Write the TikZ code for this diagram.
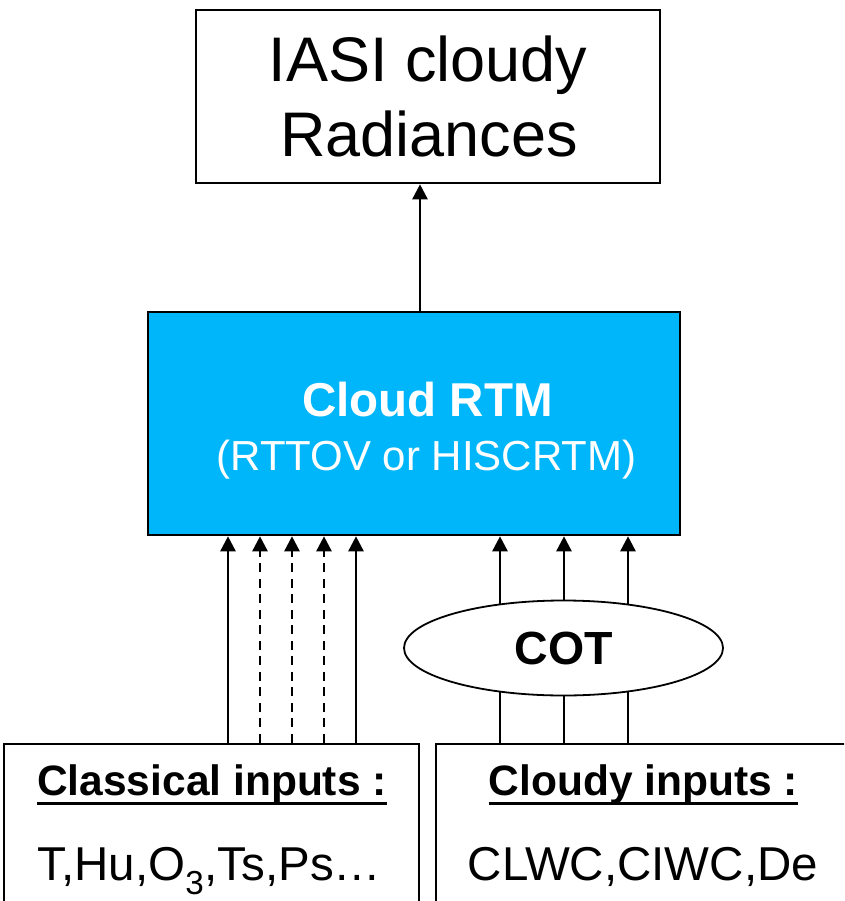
\documentclass[tikz,border=0pt]{standalone}
\usepackage{fontspec}
\setmainfont{Liberation Sans}
\usetikzlibrary{arrows.meta,shapes.geometric,calc}
\definecolor{rtmblue}{RGB}{0,182,250}
\begin{document}
\begin{tikzpicture}[x=1pt,y=-1pt,
  boxst/.style={draw=black,line width=2.6pt,rectangle,inner sep=0pt},
  lbl/.style={inner sep=0pt,anchor=base},
  arr/.style={line width=2.6pt,-{Triangle[width=15pt,length=15pt]}},
  dsh/.style={arr,dash pattern=on 9pt off 6.5pt},
  plain/.style={line width=2.6pt},
  ulst/.style={line width=3pt}]
\useasboundingbox (0,0) rectangle (844,901);
\clip (0,0) rectangle (844,901);
\fill[white] (0,0) rectangle (844,901);

% top box
\node[boxst,minimum width=464pt,minimum height=173pt] (iasi) at (428,96.5) {};
\node[lbl,font=\fontsize{63}{75}\selectfont] (t1) at (428,82) {IASI cloudy};
\node[lbl,font=\fontsize{63}{75}\selectfont] (t2) at (429,157) {Radiances};

% RTM box
\node[boxst,fill=rtmblue,minimum width=532pt,minimum height=223pt] (rtm) at (414,423.5) {};
\node[lbl,text=white,font=\fontsize{47.5}{54}\selectfont\bfseries] (r1) at (427.5,416) {Cloud RTM};
\node[lbl,text=white,font=\fontsize{42}{50}\selectfont] (r2) at (426.5,470) {(RTTOV or HISCRTM)};

% bottom boxes
\node[boxst,minimum width=415pt,minimum height=176pt] (cls) at (211.5,832) {};
\node[boxst,minimum width=424pt,minimum height=176pt] (cld) at (648,832) {};

\node[lbl,font=\fontsize{42.5}{50}\selectfont\bfseries] (h1) at (212,795) {Classical inputs :};
\node[lbl,font=\fontsize{47.5}{54}\selectfont] (v1) at (209.5,880) {T,Hu,O\textsubscript{3},Ts,Ps…};
\node[lbl,font=\fontsize{42.5}{50}\selectfont\bfseries] (h2) at (643.5,795) {Cloudy inputs :};
\node[lbl,font=\fontsize{47.5}{54}\selectfont] (v2) at (643,880) {CLWC,CIWC,De};
\draw[ulst] ($(h1.base west)+(0,8)$) -- ($(h1.base east)+(0,8)$);
\draw[ulst] ($(h2.base west)+(0,8)$) -- ($(h2.base east)+(0,8)$);

% COT ellipse
\node[ellipse,draw=black,line width=1.8pt,minimum width=319pt,minimum height=95pt,inner sep=0pt,
  font=\fontsize{46.5}{54}\selectfont\bfseries] (cot) at (563.5,648) {COT};

% coordinates for connectors
\coordinate (a0) at (420,0);
\coordinate (a1) at (228,0);
\coordinate (a2) at (260,0);
\coordinate (a3) at (292,0);
\coordinate (a4) at (324,0);
\coordinate (a5) at (356,0);
\coordinate (b1) at (500,0);
\coordinate (b2) at (564,0);
\coordinate (b3) at (628,0);

\draw[arr] (rtm.north -| a0) -- (iasi.south -| a0);

\draw[arr] (cls.north -| a1) -- (rtm.south -| a1);
\draw[dsh] (cls.north -| a2) -- (rtm.south -| a2);
\draw[dsh] (cls.north -| a3) -- (rtm.south -| a3);
\draw[dsh] (cls.north -| a4) -- (rtm.south -| a4);
\draw[arr] (cls.north -| a5) -- (rtm.south -| a5);

\draw[arr] (cot.145.5 -| b1) -- (rtm.south -| b1);
\draw[arr] (cot.north -| b2) -- (rtm.south -| b2);
\draw[arr] (cot.34.5 -| b3) -- (rtm.south -| b3);
\draw[plain] (cld.north -| b1) -- (cot.214.5 -| b1);
\draw[plain] (cld.north -| b2) -- (cot.south -| b2);
\draw[plain] (cld.north -| b3) -- (cot.325.5 -| b3);
\end{tikzpicture}
\end{document}
